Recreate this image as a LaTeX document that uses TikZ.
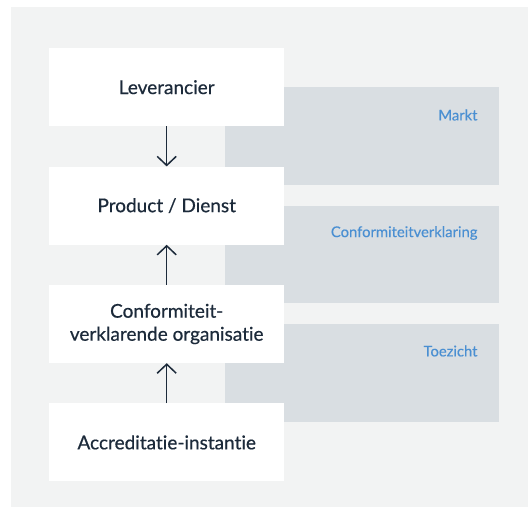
\documentclass[tikz,border=0pt]{standalone}
\usepackage{fontspec}
\setmainfont{Lato}[Ligatures=NoCommon]
\newfontfamily\chainfont{Lato}[Ligatures=NoCommon,FakeBold=0.5]
\newfontfamily\zonefont{Lato}[Ligatures=NoCommon,FakeBold=0.3]
\usetikzlibrary{positioning,arrows.meta}
\definecolor{bggrey}{HTML}{F2F3F3}
\definecolor{zonegrey}{HTML}{D9DEE2}
\definecolor{navy}{HTML}{1C2A3A}
\definecolor{zoneblue}{HTML}{4A8FD2}
\begin{document}
\begin{tikzpicture}[x=1pt,y=-1pt,
    actor/.style={fill=white,minimum width=235pt,minimum height=78pt,
      align=center,text=navy,font=\chainfont\fontsize{19}{23}\selectfont},
    zone/.style={fill=zonegrey},
    zonelabel/.style={anchor=east,text=zoneblue,font=\zonefont\fontsize{14.8}{17}\selectfont},
    flow/.style={draw=navy,line width=1.5pt,-{Straight Barb[length=9pt,width=19pt]}}]
  \useasboundingbox (0,0) rectangle (528,509);
  \fill[bggrey] (11,7) rectangle (528,507);
  % zones behind the chain
  \fill[zone] (225,87) rectangle (499,185);
  \fill[zone] (225,206) rectangle (499,303);
  \fill[zone] (225,324) rectangle (499,422);
  \node[zonelabel] (markt) at (481,115) {Markt};
  \node[zonelabel] (verkl) at (481,233) {Conformiteitverklaring};
  \node[zonelabel] (toez) at (481,351) {Toezicht};
  % chain
  \node[actor,anchor=north west] (lev) at (49,48) {Leverancier};
  \node[actor,below=40pt of lev] (prod) {Product / Dienst};
  \node[actor,below=40pt of prod] (conf) {Conformiteit-\\verklarende organisatie};
  \node[actor,below=40pt of conf] (accr) {Accreditatie-instantie};
  \draw[flow] (lev) -- (prod);
  \draw[flow] (conf) -- (prod);
  \draw[flow] (accr) -- (conf);
\end{tikzpicture}
\end{document}
